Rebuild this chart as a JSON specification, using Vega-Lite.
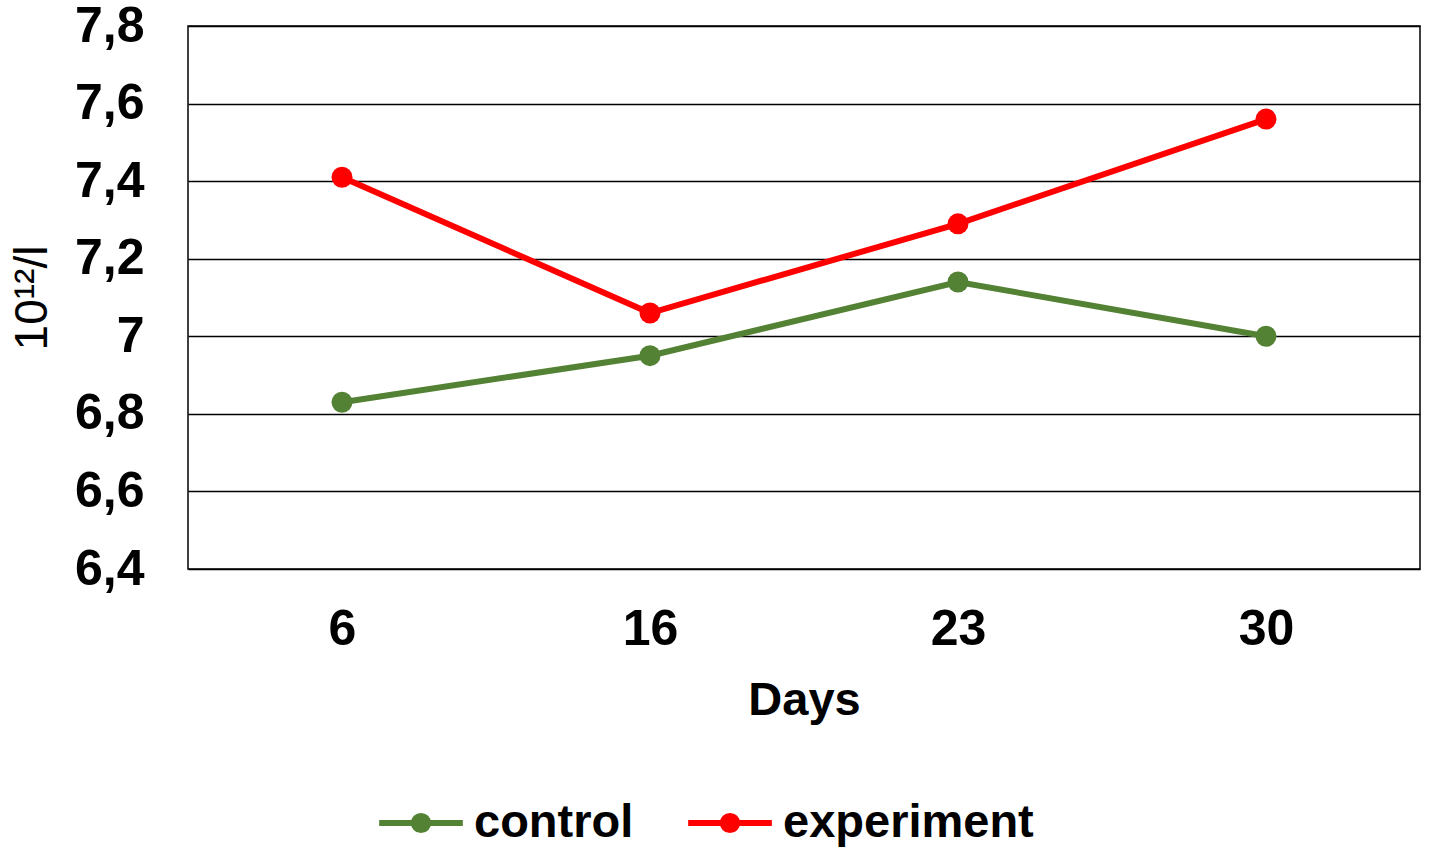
{
  "$schema": "https://vega.github.io/schema/vega-lite/v6.json",
  "width": 1232,
  "height": 543,
  "autosize": {"type": "none"},
  "padding": {"left": 188, "top": 26, "right": 9, "bottom": 286},
  "background": "white",
  "config": {
    "font": "Liberation Sans",
    "view": {"stroke": "black", "strokeWidth": 1.5},
    "axis": {"labelFont": "Liberation Sans", "titleFont": "Liberation Sans", "labelFontWeight": "bold", "titleFontWeight": "bold", "labelColor": "black", "titleColor": "black"}
  },
  "data": {
    "values": [
      {"day": "6", "series": "control", "value": 6.83},
      {"day": "16", "series": "control", "value": 6.95},
      {"day": "23", "series": "control", "value": 7.14},
      {"day": "30", "series": "control", "value": 7.0},
      {"day": "6", "series": "experiment", "value": 7.41},
      {"day": "16", "series": "experiment", "value": 7.06},
      {"day": "23", "series": "experiment", "value": 7.29},
      {"day": "30", "series": "experiment", "value": 7.56}
    ]
  },
  "encoding": {
    "x": {
      "field": "day", "type": "ordinal", "sort": ["6", "16", "23", "30"],
      "scale": {"type": "point", "padding": 0.5},
      "axis": {"title": "Days", "labelAngle": 0, "labelFontSize": 50, "titleFontSize": 47, "labelPadding": 35, "titlePadding": 23, "ticks": false, "domain": false, "grid": false}
    },
    "y": {
      "field": "value", "type": "quantitative",
      "scale": {"domain": [6.4, 7.8], "nice": false, "zero": false},
      "axis": {"title": "10¹²/l", "titleFontWeight": "normal", "values": [6.4, 6.6, 6.8, 7.0, 7.2, 7.4, 7.6, 7.8], "labelExpr": "replace(format(datum.value, '.1~f'), '.', ',')", "labelFontSize": 50, "titleFontSize": 46, "labelPadding": 44, "titlePadding": 18, "ticks": false, "domain": false, "grid": true, "gridColor": "black", "gridWidth": 1.5, "gridOpacity": 1}
    },
    "color": {
      "field": "series", "type": "nominal",
      "scale": {"domain": ["control", "experiment"], "range": ["#548235", "#ff0000"]},
      "legend": {
        "title": null, "orient": "none", "direction": "horizontal", "legendX": 188, "legendY": 752,
        "labelFontSize": 47, "labelFontWeight": "bold", "labelColor": "black", "labelFont": "Liberation Sans", "labelLimit": 0,
        "symbolType": "M-1,0H1M0.17,0A0.17,0.17 0 1,1 -0.17,0A0.17,0.17 0 1,1 0.17,0Z",
        "symbolSize": 7000, "symbolStrokeWidth": 6, "labelOffset": 8, "columnPadding": 42,
        "encode": {"symbols": {"update": {"fill": {"scale": "color", "field": "value"}, "stroke": {"scale": "color", "field": "value"}, "opacity": {"value": 1}}}}
      }
    }
  },
  "layer": [
    {"mark": {"type": "line", "strokeWidth": 6}},
    {"mark": {"type": "point", "filled": true, "size": 440, "opacity": 1}}
  ]
}
